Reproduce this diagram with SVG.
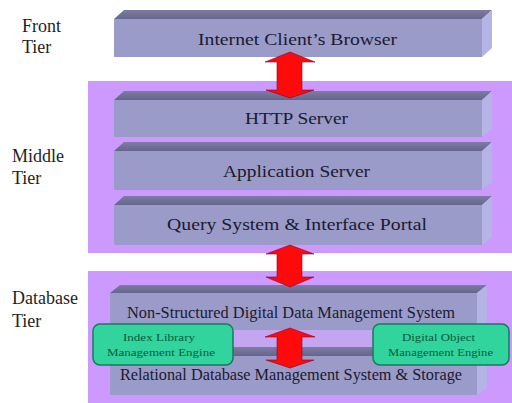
<svg xmlns="http://www.w3.org/2000/svg" width="512" height="403" viewBox="0 0 512 403">
<defs>
<style>
.lbl{font-family:"Liberation Serif","Times New Roman",serif;font-size:18px;fill:#1e1e1e}
.bt{font-family:"Liberation Serif","Times New Roman",serif;font-size:16.5px;fill:#1a1a2e;text-anchor:middle}
.gt{font-family:"Liberation Serif","Times New Roman",serif;font-size:10.5px;fill:#0b5a3c;text-anchor:middle}
.panel{fill:#cc99ff}
.face{fill:#9b9bc9}
.top{fill:#72729a}
.side{fill:#b4b4e6}
.green{fill:#30d49c;stroke:#1a7a5c;stroke-width:1.5}
.arrow{fill:#ff0a0a;stroke:#8a0030;stroke-width:0.6}
</style>
<linearGradient id="tg" x1="0" y1="0" x2="0" y2="1">
<stop offset="0" stop-color="#7c7ca4"/>
<stop offset="1" stop-color="#66668c"/>
</linearGradient>
</defs>
<rect width="512" height="403" fill="#ffffff"/>

<g id="tier-labels">
<text class="lbl" x="22" y="32">Front</text>
<text class="lbl" x="22" y="53">Tier</text>
<text class="lbl" x="12" y="162">Middle</text>
<text class="lbl" x="12" y="184">Tier</text>
<text class="lbl" x="12" y="304">Database</text>
<text class="lbl" x="12" y="327">Tier</text>
</g>

<g id="middle-panel"><rect class="panel" x="88" y="81" width="424" height="172"/></g>
<g id="database-panel"><rect class="panel" x="88" y="271" width="424" height="132"/></g>

<g id="browser">
<polygon fill="url(#tg)" points="114,19 124,10 492,10 482,19"/>
<polygon class="side" points="482,19 492,10 492,48 482,57"/>
<rect class="face" x="114" y="19" width="368" height="38"/>
<text class="bt" x="297.5" y="45" textLength="199" lengthAdjust="spacingAndGlyphs">Internet Client’s Browser</text>
</g>

<g id="http-server">
<polygon fill="url(#tg)" points="114,100 124,91 492,91 482,100"/>
<polygon class="side" points="482,100 492,91 492,129 482,137"/>
<rect class="face" x="114" y="100" width="368" height="37"/>
<text class="bt" x="296.5" y="124" textLength="103" lengthAdjust="spacingAndGlyphs">HTTP Server</text>
</g>

<g id="application-server">
<polygon fill="url(#tg)" points="114,151 124,142 492,142 482,151"/>
<polygon class="side" points="482,151 492,142 492,182 482,190"/>
<rect class="face" x="114" y="151" width="368" height="39"/>
<text class="bt" x="296.5" y="177" textLength="147" lengthAdjust="spacingAndGlyphs">Application Server</text>
</g>

<g id="query-system">
<polygon fill="url(#tg)" points="114,205 124,196 492,196 482,205"/>
<polygon class="side" points="482,205 492,196 492,237 482,245"/>
<rect class="face" x="114" y="205" width="368" height="40"/>
<text class="bt" x="297" y="230" textLength="260" lengthAdjust="spacingAndGlyphs">Query System &amp; Interface Portal</text>
</g>

<g id="non-structured">
<polygon fill="url(#tg)" points="110,293 120,285 487,285 477,293"/>
<polygon class="side" points="477,293 487,285 487,322 477,330"/>
<rect class="face" x="110" y="293" width="367" height="37"/>
<rect x="110" y="330" width="367" height="17" fill="#c3a6ef"/>
<text class="bt" x="291" y="318" textLength="328" lengthAdjust="spacingAndGlyphs">Non-Structured Digital Data Management System</text>
</g>

<g id="relational">
<polygon fill="url(#tg)" points="110,356 118,347 487,347 477,356"/>
<polygon class="side" points="477,356 487,347 487,387 477,395"/>
<rect class="face" x="110" y="356" width="367" height="39"/>
<text class="bt" x="291" y="380" textLength="342" lengthAdjust="spacingAndGlyphs">Relational Database Management System &amp; Storage</text>
</g>

<g id="connectors">
<polygon class="arrow" points="290,52 315,62 302,62 302,90 314,90 290,98 266,90 277,90 277,62 265,62"/>
<polygon class="arrow" points="290,245 314,254 302,254 302,277 314,277 290,287 266,277 277,277 277,254 266,254"/>
<polygon class="arrow" points="290,328 315,337 302,337 302,360 314,360 290,368 266,360 277,360 277,337 265,337"/>
</g>

<g id="index-library">
<rect class="green" x="93" y="324" width="140" height="41" rx="7"/>
<text class="gt" x="159" y="341" textLength="72" lengthAdjust="spacingAndGlyphs">Index Library</text>
<text class="gt" x="161" y="356" textLength="108" lengthAdjust="spacingAndGlyphs">Management Engine</text>
</g>

<g id="digital-object">
<rect class="green" x="373" y="324" width="136" height="41" rx="7"/>
<text class="gt" x="438.5" y="341" textLength="73" lengthAdjust="spacingAndGlyphs">Digital Object</text>
<text class="gt" x="440.5" y="356" textLength="105" lengthAdjust="spacingAndGlyphs">Management Engine</text>
</g>
</svg>
